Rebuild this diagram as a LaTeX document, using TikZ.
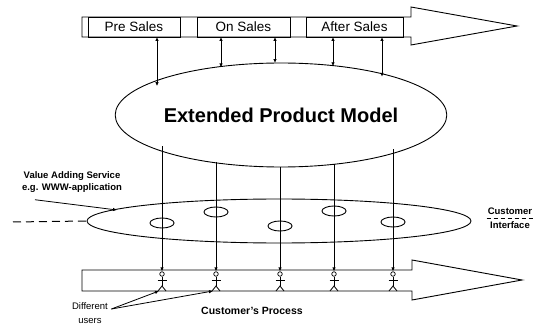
\documentclass[tikz,border=0pt]{standalone}
\usepackage{fontspec}
\setmainfont{Liberation Sans}
\usetikzlibrary{arrows.meta, shapes.geometric, calc}

\begin{document}
\begin{tikzpicture}[x=1pt, y=-1pt]
  \tikzset{
    bar/.style={line width=0.9pt, draw=black, line join=miter},
    phase/.style={draw=black, line width=0.9pt, minimum height=20pt, inner sep=0pt, font=\fontsize{13.5}{15}\selectfont},
    blob/.style={ellipse, draw=black, line width=0.9pt, inner sep=0pt},
    link/.style={{Latex[length=4pt,width=3.5pt]}-{Latex[length=4pt,width=3.5pt]}, line width=0.8pt},
    feed/.style={-{Latex[length=4pt,width=3.5pt]}, line width=1pt},
    pointer/.style={-{Latex[length=4pt,width=3.5pt]}, line width=0.8pt},
    dashline/.style={dash pattern=on 8pt off 5pt, line width=1pt},
    note/.style={font=\fontsize{9.5}{11.5}\selectfont\bfseries, align=center},
    user/.style={circle, draw=black, fill=white, line width=0.7pt, inner sep=0pt, minimum size=4.5pt},
    stick/.style={line width=0.8pt}
  }
  \useasboundingbox (0,0) rectangle (542,329);

  % Sales phases (top process arrow)
  \draw[bar] (82,17) -- (411,17) -- (411,7) -- (517,26) -- (411,45) -- (411,37) -- (82,37) -- cycle;
  \node[phase, minimum width=92pt] (pre) at (134,27) {Pre Sales};
  \node[phase, minimum width=93pt] (on) at (243.5,27) {On Sales};
  \node[phase, minimum width=97pt] (after) at (354.5,27) {After Sales};

  % Product model
  \node[blob, minimum width=298pt, minimum height=104pt, font=\fontsize{20}{24}\selectfont\bfseries] (epm) at (281,115) {Extended Product Model};

  % Links between phases and model
  \foreach \x [count=\i] in {157,221,275,333,382} {
    \pgfmathsetmacro\yy{115-52*sqrt(1-((\x-281)/149)^2)}
    \coordinate (t\i) at (\x,37);
    \coordinate (e\i) at (\x,\yy);
    \draw[link] (t\i) -- (e\i);
  }

  % Customer's process (bottom arrow)
  \draw[bar] (82,270) -- (412,270) -- (412,260) -- (522,280) -- (412,300) -- (412,291) -- (82,291) -- cycle;

  % Customer interface
  \node[blob, minimum width=384pt, minimum height=44pt] (cif) at (279,221) {};

  % Services and users
  \foreach \x/\by [count=\i] in {162/223,216/212,280/226,334/211,393/222} {
    \pgfmathsetmacro\yy{115+52*sqrt(1-((\x-281)/149)^2)}
    \coordinate (s\i) at (\x,\yy);
    \node[blob, minimum width=24pt, minimum height=10pt] (b\i) at (\x,\by) {};
    \node[user] (u\i) at (\x,274) {};
    \coordinate (f\i) at (\x-3,291);
    \draw[feed] (s\i) -- (u\i);
    \draw[stick] (u\i.south) -- (\x,286);
    \draw[stick] (\x-4.5,280) -- (\x+4.5,280);
    \draw[stick] (\x-4,291) -- (\x,286) -- (\x+4,291);
  }

  % Labels
  \node[note] (vas) at (72,182) {Value Adding Service\\e.g. WWW-application};
  \coordinate (vasend) at (117,210);
  \draw[pointer] ($(vas.south)+(-37,4)$) -- (vasend);

  \coordinate (dl) at (13,222);
  \draw[dashline] (dl) -- (cif.west);

  \node[note, font=\fontsize{9.5}{14}\selectfont\bfseries, inner sep=1pt] (ci) at (510,218) {Customer\\Interface};
  \draw[dash pattern=on 4pt off 3pt, line width=0.9pt] (ci.west) -- (ci.east);

  \node[font=\fontsize{9.5}{14}\selectfont, align=center] (du) at (90,313) {Different\\users};
  \draw[pointer] ($(du.east)+(0,-4)$) -- (f1);
  \draw[pointer] ($(du.east)+(0,-4)$) -- (f2);

  \node[font=\fontsize{10.5}{12}\selectfont\bfseries] (cp) at (252,311) {Customer's Process};
\end{tikzpicture}
\end{document}
